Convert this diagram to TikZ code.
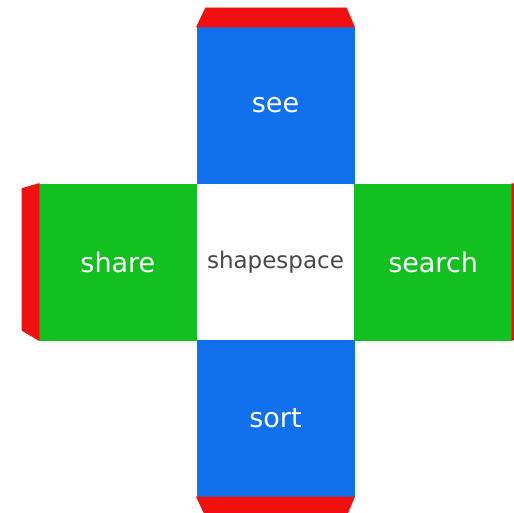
\documentclass[tikz,border=0pt]{standalone}
\usepackage{fontspec}
\setmainfont{DejaVu Sans}
\usepackage{xcolor}
\usetikzlibrary{positioning, calc}

\definecolor{cubeblue}{RGB}{17,113,237}
\definecolor{cubegreen}{RGB}{18,192,32}
\definecolor{cubered}{RGB}{240,16,16}
\definecolor{hubtext}{RGB}{72,72,72}

\begin{document}
\begin{tikzpicture}[
    x=1pt, y=-1pt,
    face/.style={rectangle, minimum width=157pt, minimum height=156pt, inner sep=0pt, line width=0.8pt, text=white, font=\fontsize{27}{30}\selectfont},
    hub/.style={rectangle, minimum width=157pt, minimum height=156pt, inner sep=0pt, fill=white, text=hubtext, font=\fontsize{23}{26}\selectfont},
    flap/.style={fill=cubered, draw=cubered, line width=0.8pt}
]
\clip (0,0) rectangle (514,513);

% centre face
\node[hub] (shapespace) at (275.5,262) {shapespace};

% outer faces
\node[face, fill=cubeblue, draw=cubeblue, above=0pt of shapespace] (see) {see};
\node[face, fill=cubeblue, draw=cubeblue, below=0pt of shapespace] (sort) {sort};
\node[face, fill=cubegreen, draw=cubegreen, left=0pt of shapespace] (share) {share};
\node[face, fill=cubegreen, draw=cubegreen, right=0pt of shapespace] (search) {search};

% red flaps
\filldraw[flap] (see.north west) -- ++(9,-19) -- ($(see.north east)+(-8,-19)$) -- (see.north east) -- cycle;
\filldraw[flap] (sort.south west) -- ++(9,19) -- ($(sort.south east)+(-8,19)$) -- (sort.south east) -- cycle;
\filldraw[flap] (share.north west) -- ++(-17,5) -- ($(share.south west)+(-17,-10)$) -- (share.south west) -- cycle;
\filldraw[flap] (search.north east) -- ++(17,5) -- ($(search.south east)+(17,-10)$) -- (search.south east) -- cycle;

\end{tikzpicture}
\end{document}
